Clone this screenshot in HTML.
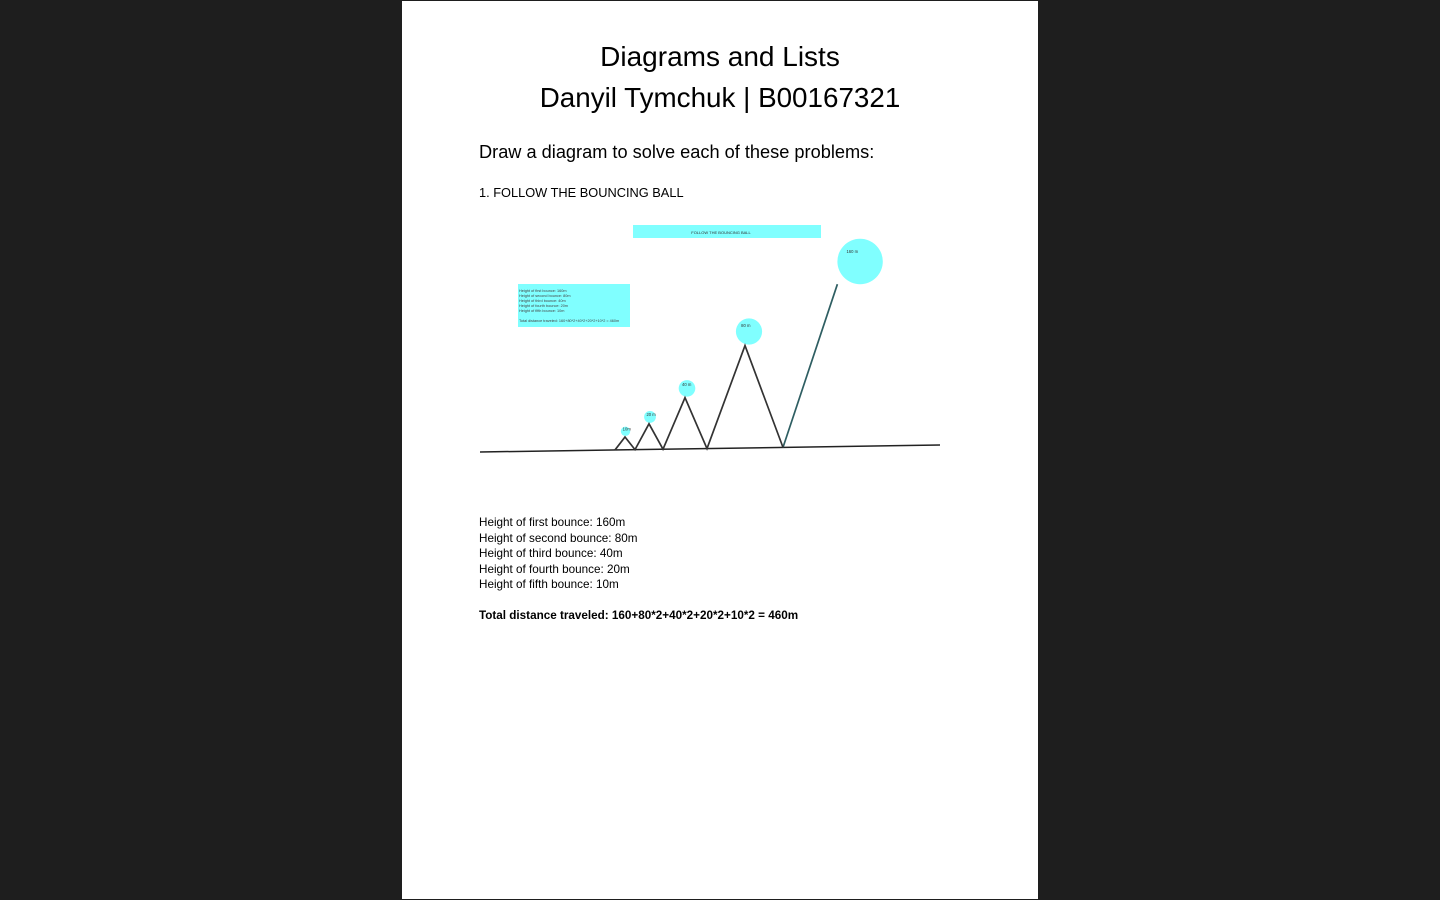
<!DOCTYPE html>
<html><head><meta charset="utf-8"><style>
body{margin:0;width:1440px;height:900px;background:#1e1e1e;font-family:"Liberation Sans",Arial,sans-serif;overflow:hidden;position:relative}
#page{position:absolute;left:402px;top:1px;width:636px;height:898px;background:#fff}
.t{position:absolute;white-space:nowrap;color:#000}
</style></head><body>
<div id="page">
<div class="t" style="left:0;width:636px;text-align:center;top:40px;font-size:28px;">Diagrams and Lists</div>
<div class="t" style="left:0;width:636px;text-align:center;top:81px;font-size:27.8px;">Danyil Tymchuk | B00167321</div>
<div class="t" style="left:77px;top:141px;font-size:18.2px;">Draw a diagram to solve each of these problems:</div>
<div class="t" style="left:77px;top:184px;font-size:12.8px;">1. FOLLOW THE BOUNCING BALL</div>
<div class="t" style="left:77px;top:514px;font-size:11.7px;line-height:15.5px;">Height of first bounce: 160m<br>Height of second bounce: 80m<br>Height of third bounce: 40m<br>Height of fourth bounce: 20m<br>Height of fifth bounce: 10m<br><br><b>Total distance traveled: 160+80*2+40*2+20*2+10*2 = 460m</b></div>
</div>
<svg id="chart" width="1440" height="900" style="position:absolute;left:0;top:0" font-family="Liberation Sans, Arial, sans-serif">
<rect x="633" y="225" width="188" height="13" fill="#80ffff"/>
<text x="721" y="234" font-size="4" text-anchor="middle" fill="#333">FOLLOW THE BOUNCING BALL</text>
<rect x="518" y="284" width="112" height="43" fill="#80ffff"/>
<text font-size="3.8" fill="#444"><tspan x="519" y="292">Height of first bounce: 160m</tspan><tspan x="519" y="297">Height of second bounce: 80m</tspan><tspan x="519" y="302">Height of third bounce: 40m</tspan><tspan x="519" y="307">Height of fourth bounce: 20m</tspan><tspan x="519" y="312">Height of fifth bounce: 10m</tspan><tspan x="519" y="322">Total distance traveled: 160+80*2+40*2+20*2+10*2 = 460m</tspan></text>
<line x1="480" y1="452" x2="940" y2="445" stroke="#222" stroke-width="1.5"/>
<g id="marks"></g>
</svg>
<script>
const bounceHeights = [10, 20, 40, 80, 160];
const bounceLabels = ["10m", "20 m", "40 m", "80 m", "160 m"];
const NS = "http://www.w3.org/2000/svg";
const g = document.getElementById("marks");
function groundY(x) { return 452 - (x - 480) * 7 / 460; }
function yScale(h, x) { return groundY(x) - h * 1.28; }
function halfW(h) { return 0.4 * h + 6; }
function radius(h) { return 3.5 + h * 0.12; }
let x = 615;
let pts = [[x, groundY(x)]];
for (let i = 0; i < bounceHeights.length; i++) {
  const h = bounceHeights[i];
  const last = i === bounceHeights.length - 1;
  const r = radius(h);
  let px, py, cx, cy;
  if (last) {
    px = x + h * 0.34;
    py = groundY(x) - h * 1.02;
    cx = px + r; cy = py - r;
  } else {
    px = x + halfW(h);
    py = yScale(h, px);
    cx = px + h * 0.05; cy = py - r - 1;
  }
  const c = document.createElementNS(NS, "circle");
  
  
  c.setAttribute("cx", cx);
  c.setAttribute("cy", cy);
  c.setAttribute("r", r);
  c.setAttribute("fill", "#80ffff");
  g.appendChild(c);
  const t = document.createElementNS(NS, "text");
  
  
  t.setAttribute("x", cx - r * 0.6);
  t.setAttribute("y", cy - r * 0.45 + 1.5);
  t.setAttribute("font-size", "4.2");
  t.setAttribute("fill", "#333");
  t.textContent = bounceLabels[i];
  g.appendChild(t);
  if (last) {
    const l = document.createElementNS(NS, "line");
    
    
    l.setAttribute("x1", x); l.setAttribute("y1", groundY(x));
    l.setAttribute("x2", px); l.setAttribute("y2", py);
    l.setAttribute("stroke", "#2e5e62"); l.setAttribute("stroke-width", "1.7");
    g.appendChild(l);
  } else {
    pts.push([px, py]);
    x = px + halfW(h);
    pts.push([x, groundY(x)]);
  }
}
const pl = document.createElementNS(NS, "polyline");


pl.setAttribute("points", pts.map(p => p.join(",")).join(" "));
pl.setAttribute("fill", "none"); pl.setAttribute("stroke", "#333"); pl.setAttribute("stroke-width", "1.7");
g.appendChild(pl);
</script>
</body></html>
